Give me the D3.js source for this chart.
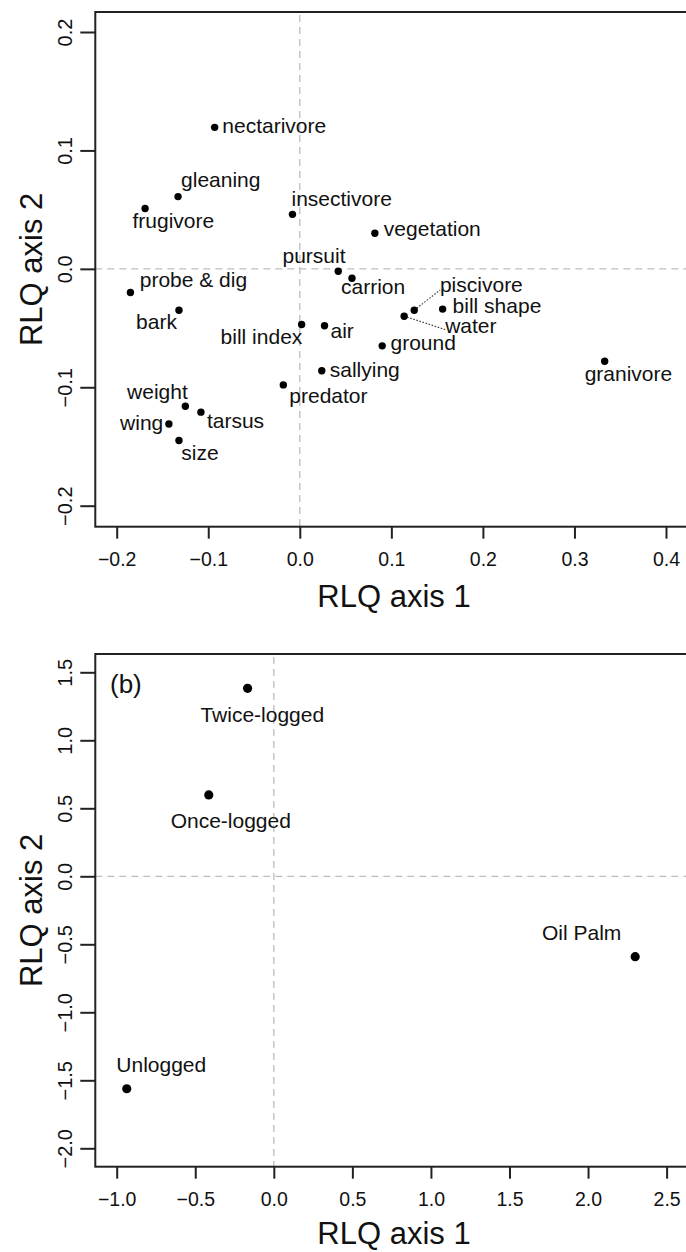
<!DOCTYPE html>
<html>
<head>
<meta charset="utf-8">
<script src="https://cdn.jsdelivr.net/npm/d3@7/dist/d3.min.js"></script>
<style>
  html, body { margin: 0; padding: 0; background: #fff; }
  svg { display: block; }
  text { font-family: "Liberation Sans", Arial, Helvetica, sans-serif; fill: #111; }
</style>
</head>
<body>
<svg id="chart" width="686" height="1252"></svg>
<script>
// ---------- DATA ----------
// Panel (a): trait / diet / foraging scores
const traitNames = ["nectarivore","gleaning","frugivore","insectivore","vegetation","pursuit","carrion",
  "probe & dig","bark","piscivore","water","bill shape","bill index","air","ground","sallying",
  "predator","granivore","weight","tarsus","wing","size"];
const traitAxis1 = [-0.093,-0.133,-0.169,-0.008,0.082,0.042,0.057,
  -0.185,-0.132,0.125,0.114,0.156,0.002,0.027,0.090,0.024,
  -0.018,0.333,-0.125,-0.108,-0.143,-0.132];
const traitAxis2 = [0.1195,0.061,0.051,0.046,0.030,-0.002,-0.008,
  -0.020,-0.035,-0.035,-0.040,-0.034,-0.047,-0.048,-0.065,-0.086,
  -0.098,-0.078,-0.116,-0.121,-0.131,-0.145];

// Panel (b): habitat / site scores
const siteNames = ["Twice-logged","Once-logged","Oil Palm","Unlogged"];
const siteAxis1 = [-0.167,-0.414,2.30,-0.936];
const siteAxis2 = [1.382,0.598,-0.591,-1.562];

// Tick values
const topXTicks = [-0.2,-0.1,0.0,0.1,0.2,0.3,0.4];
const topYTicks = [-0.2,-0.1,0.0,0.1,0.2];
const botXTicks = [-1.0,-0.5,0.0,0.5,1.0,1.5,2.0,2.5];
const botYTicks = [-2.0,-1.5,-1.0,-0.5,0.0,0.5,1.0,1.5];

// ---------- LAYOUT (label placement, px relative to point) ----------
const traitLabelLayout = {
  "nectarivore": [7.7, 5.2, "start"],
  "gleaning": [3, -9.4, "start"],
  "frugivore": [-12.6, 20, "start"],
  "insectivore": [-1, -8, "start"],
  "vegetation": [9, 3, "start"],
  "pursuit": [7.3, -8.7, "end"],
  "carrion": [-11, 15.7, "start"],
  "probe & dig": [9.3, -5.6, "start"],
  "bark": [-2, 19, "end"],
  "piscivore": [25.7, -18.3, "start"],
  "water": [41, 17, "start"],
  "bill shape": [10, 3.5, "start"],
  "bill index": [0.7, 19, "end"],
  "air": [6, 12.6, "start"],
  "ground": [8.3, 4, "start"],
  "sallying": [8, 6.7, "start"],
  "predator": [6, 17.7, "start"],
  "granivore": [-20, 20, "start"],
  "weight": [2.4, -7.4, "end"],
  "tarsus": [6, 16, "start"],
  "wing": [-5.6, 6, "end"],
  "size": [2.4, 19.3, "start"]
};
// leader lines (end point relative to point)
const leaderLines = { "piscivore": [25.7, -20.3], "water": [41, 13.3] };

const siteLabelLayout = {
  "Twice-logged": [14.7, 33.4, "middle"],
  "Once-logged": [22, 33, "middle"],
  "Oil Palm": [-53.5, -16.7, "middle"],
  "Unlogged": [34.5, -17, "middle"]
};

// ---------- DRAW ----------
const svg = d3.select("#chart");
const fmt = v => d3.format(".1f")(v);

function panel(cfg) {
  const g = svg.append("g");
  const {box, x, y} = cfg;

  // dashed zero lines
  g.append("line")
    .attr("x1", x(0)).attr("x2", x(0)).attr("y1", box.top + 3).attr("y2", box.bottom)
    .attr("stroke", "#bdbdbd").attr("stroke-width", 1.3).attr("stroke-dasharray", "7,5");
  g.append("line")
    .attr("x1", box.left).attr("x2", box.right).attr("y1", y(0)).attr("y2", y(0))
    .attr("stroke", "#bdbdbd").attr("stroke-width", 1.3).attr("stroke-dasharray", "7,5");

  // x axis
  const xa = g.append("g").attr("transform", `translate(0,${box.bottom})`)
    .call(d3.axisBottom(x).tickValues(cfg.xTicks).tickSize(12).tickPadding(0).tickFormat(fmt));
  xa.select(".domain").remove();
  xa.selectAll(".tick line").attr("stroke", "#222").attr("stroke-width", 2);
  xa.selectAll(".tick text").attr("y", 39).attr("dy", null)
    .style("font-size", "19.5px").style("fill", "#111")
    .style("font-family", '"Liberation Sans", Arial, sans-serif');

  // y axis
  const ya = g.append("g").attr("transform", `translate(${box.left},0)`)
    .call(d3.axisLeft(y).tickValues(cfg.yTicks).tickSize(15).tickFormat(fmt));
  ya.select(".domain").remove();
  ya.selectAll(".tick line").attr("stroke", "#222").attr("stroke-width", 2);
  ya.selectAll(".tick text").attr("x", null).attr("dy", null)
    .attr("transform", "translate(-23.6,0) rotate(-90)")
    .attr("text-anchor", "middle")
    .style("font-size", "20px").style("fill", "#111")
    .style("font-family", '"Liberation Sans", Arial, sans-serif');

  // box
  g.append("rect")
    .attr("x", box.left).attr("y", box.top)
    .attr("width", box.right - box.left).attr("height", box.bottom - box.top)
    .attr("fill", "none").attr("stroke", "#222").attr("stroke-width", 2);

  // axis titles
  g.append("text").attr("x", (box.left + box.right) / 2).attr("y", cfg.xTitleY)
    .attr("text-anchor", "middle").style("font-size", "31px").text("RLQ axis 1");
  g.append("text")
    .attr("transform", `translate(41.6,${(box.top + box.bottom) / 2}) rotate(-90)`)
    .attr("text-anchor", "middle").style("font-size", "31px").text("RLQ axis 2");

  // points
  const pts = cfg.names.map((n, i) => ({name: n, a1: cfg.a1[i], a2: cfg.a2[i]}));
  // leader lines
  g.selectAll("line.leader").data(pts.filter(d => cfg.leaders && cfg.leaders[d.name]))
    .enter().append("line").attr("class", "leader")
    .attr("x1", d => x(d.a1)).attr("y1", d => y(d.a2))
    .attr("x2", d => x(d.a1) + cfg.leaders[d.name][0])
    .attr("y2", d => y(d.a2) + cfg.leaders[d.name][1])
    .attr("stroke", "#444").attr("stroke-width", 1.2).attr("stroke-dasharray", "1.6,1.6");
  g.selectAll("circle.pt").data(pts).enter().append("circle").attr("class", "pt")
    .attr("cx", d => x(d.a1)).attr("cy", d => y(d.a2)).attr("r", cfg.r).attr("fill", "#000");
  g.selectAll("text.lbl").data(pts).enter().append("text").attr("class", "lbl")
    .attr("x", d => x(d.a1) + cfg.layout[d.name][0])
    .attr("y", d => y(d.a2) + cfg.layout[d.name][1])
    .attr("text-anchor", d => cfg.layout[d.name][2])
    .style("font-size", "21px")
    .text(d => d.name);
  return g;
}

// Panel (a)
panel({
  box: {left: 95.3, right: 692.7, top: 12, bottom: 526.7},
  x: d3.scaleLinear().domain([-0.2, 0.4]).range([116.7, 666.0]),
  y: d3.scaleLinear().domain([-0.2, 0.2]).range([505.7, 32]),
  xTicks: topXTicks, yTicks: topYTicks,
  names: traitNames, a1: traitAxis1, a2: traitAxis2,
  layout: traitLabelLayout, leaders: leaderLines, r: 3.7,
  xTitleY: 606.7
});

// Panel (b)
const pb = panel({
  box: {left: 95.3, right: 692.7, top: 654, bottom: 1166.7},
  x: d3.scaleLinear().domain([-1.0, 2.5]).range([116.7, 666.6]),
  y: d3.scaleLinear().domain([-2.0, 1.5]).range([1148.3, 672.3]),
  xTicks: botXTicks, yTicks: botYTicks,
  names: siteNames, a1: siteAxis1, a2: siteAxis2,
  layout: siteLabelLayout, leaders: null, r: 4.6,
  xTitleY: 1244
});
pb.append("text").attr("x", 110).attr("y", 693).style("font-size", "26px").text("(b)");
</script>
</body>
</html>
